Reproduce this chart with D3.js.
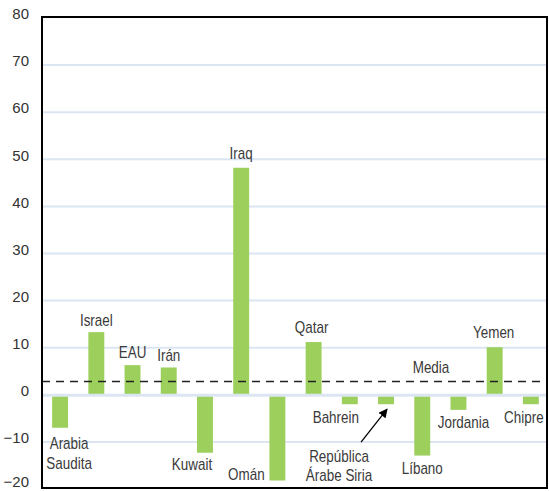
<!DOCTYPE html>
<html>
<head>
<meta charset="utf-8">
<script src="https://cdn.jsdelivr.net/npm/d3@7"></script>
<style>
  html, body { margin: 0; padding: 0; background: #fff; }
  svg { display: block; }
  .tick-label { font-family: "Liberation Sans", Arial, sans-serif; font-size: 15px; fill: #333; }
  .cat-label { font-family: "Liberation Sans", Arial, sans-serif; font-size: 16px; fill: #3a3a3a; }
</style>
</head>
<body>
<svg id="chart" width="549" height="491"></svg>
<script>
// Countries, in drawing order
const categories = [
  "Arabia Saudita", "Israel", "EAU", "Irán", "Kuwait", "Iraq", "Omán",
  "Qatar", "Bahrein", "República Árabe Siria", "Líbano", "Jordania", "Yemen", "Chipre"
];
// Value per country
const values = [-7.0, 13.3, 6.3, 5.8, -12.3, 48.2, -18.2, 11.2, -2.0, -2.0, -12.9, -3.2, 10.1, -2.0];
// Average line
const mediaValue = 2.8;
const mediaLabel = "Media";
// Y axis ticks
const yTicks = [-20, -10, 0, 10, 20, 30, 40, 50, 60, 70, 80];

// Label text lines for each country
const labelLines = [
  ["Arabia", "Saudita"], ["Israel"], ["EAU"], ["Irán"], ["Kuwait"], ["Iraq"], ["Omán"],
  ["Qatar"], ["Bahrein"], ["República", "Árabe Siria"], ["Líbano"], ["Jordania"], ["Yemen"], ["Chipre"]
];
// Label placement: horizontal shift from bar centre, vertical shift from bar end
const labelLayout = [
  { dx: 9, dy: 16 }, { dx: 0, dy: -12 }, { dx: 0, dy: -13 }, { dx: 0, dy: -12 },
  { dx: -13, dy: 12 }, { dx: 0, dy: -14 }, { dx: -31, dy: -6 }, { dx: -2, dy: -14 },
  { dx: -14, dy: 13 }, { dx: -47, dy: 52 }, { dx: 0, dy: 13 }, { dx: 5, dy: 13 },
  { dx: -1, dy: -15 }, { dx: -7, dy: 13 }
];
// Horizontal squeeze giving the labels a condensed face
const condense = 0.84;

const svg = d3.select("#chart");
const frame = { left: 42, top: 17, right: 547, bottom: 488 };

const x = d3.scaleBand()
  .domain(categories)
  .range([42, 549])
  .paddingInner(0.56)
  .paddingOuter(0.28);

const y = d3.scaleLinear().domain([-20, 80]).range([489, 18]);

// Horizontal gridlines
svg.append("g")
  .selectAll("line")
  .data(yTicks.filter(t => t !== 0 && t !== 80 && t !== -20))
  .join("line")
  .attr("x1", frame.left).attr("x2", frame.right)
  .attr("y1", d => y(d)).attr("y2", d => y(d))
  .attr("stroke", "#dce6f2").attr("stroke-width", 2);

// Bars
svg.append("g")
  .selectAll("rect")
  .data(values)
  .join("rect")
  .attr("x", (d, i) => x(categories[i]))
  .attr("width", x.bandwidth())
  .attr("y", d => y(Math.max(0, d)))
  .attr("height", d => Math.abs(y(d) - y(0)))
  .attr("fill", "#9dcf5d");

// Zero line sits over the bar bases
svg.append("line")
  .attr("x1", frame.left).attr("x2", frame.right)
  .attr("y1", y(0) + 0.5).attr("y2", y(0) + 0.5)
  .attr("stroke", "#dce6f2").attr("stroke-width", 3);

// Average dashed line
svg.append("line")
  .attr("x1", frame.left).attr("x2", frame.right)
  .attr("y1", y(mediaValue)).attr("y2", y(mediaValue))
  .attr("stroke", "#222").attr("stroke-width", 1.5)
  .attr("stroke-dasharray", "8,6");

// Condensed, centred text block at (cx, cy)
function label(parent, cx, cy, lines) {
  const g = parent.append("g")
    .attr("transform", `translate(${cx},${cy}) scale(${condense},1)`);
  const t = g.append("text")
    .attr("class", "cat-label")
    .attr("text-anchor", "middle")
    .attr("dominant-baseline", "central");
  lines.forEach((ln, k) => {
    t.append("tspan").attr("x", 0).attr("y", k * 19.5).text(ln);
  });
}

label(svg, 431, y(mediaValue) - 14, [mediaLabel]);

// Plot frame
svg.append("rect")
  .attr("x", frame.left).attr("y", frame.top)
  .attr("width", frame.right - frame.left).attr("height", frame.bottom - frame.top)
  .attr("fill", "none").attr("stroke", "#000").attr("stroke-width", 2);

// Y axis labels (the lowest one is lifted to stay inside the page)
const yAxis = d3.axisLeft(y).tickValues(yTicks).tickSize(0).tickPadding(13);
const gy = svg.append("g").attr("transform", `translate(${frame.left},0)`).call(yAxis);
gy.select(".domain").remove();
gy.selectAll("text").attr("class", "tick-label").attr("dy", "0.05em").attr("fill", null);
gy.selectAll(".tick").filter(d => d === -20).select("text").attr("dy", "-0.2em");

// Country labels
const labels = svg.append("g");
categories.forEach((c, i) => {
  const cx = x(c) + x.bandwidth() / 2 + labelLayout[i].dx;
  const cy = y(values[i]) + labelLayout[i].dy;
  label(labels, cx, cy, labelLines[i]);
});

// Pointer from the Syria label to its bar
svg.append("defs").append("marker")
  .attr("id", "arrow")
  .attr("viewBox", "0 0 10 10")
  .attr("refX", 9).attr("refY", 5)
  .attr("markerWidth", 9).attr("markerHeight", 9)
  .attr("markerUnits", "userSpaceOnUse")
  .attr("orient", "auto")
  .append("path").attr("d", "M0,0 L10,5 L0,10 z").attr("fill", "#000");

const siriaIdx = 9;
const siriaX = x(categories[siriaIdx]) + x.bandwidth() / 2;
svg.append("line")
  .attr("x1", siriaX - 25).attr("y1", y(values[siriaIdx]) + 38)
  .attr("x2", siriaX + 1).attr("y2", y(values[siriaIdx]) + 5)
  .attr("stroke", "#000").attr("stroke-width", 1.3)
  .attr("marker-end", "url(#arrow)");
</script>
</body>
</html>
